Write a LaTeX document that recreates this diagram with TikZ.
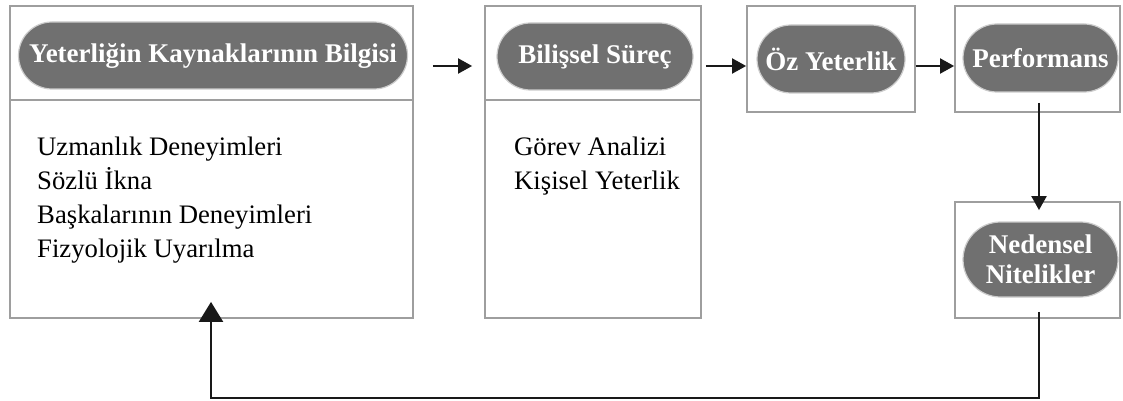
\documentclass[tikz,border=0pt]{standalone}
\usepackage{fontspec}
\setmainfont{Liberation Serif}
\usetikzlibrary{arrows.meta,calc,shapes.misc}
\begin{document}
\begin{tikzpicture}[x=1pt,y=-1pt,
  frame/.style={draw=black!38,line width=1.8pt,fill=white,inner sep=0pt},
  pill/.style={rounded rectangle,fill=black!56,draw=black!20,line width=1.2pt,
    text=white,font=\bfseries\fontsize{27}{30}\selectfont,inner sep=0pt,align=center},
  item/.style={anchor=base west,font=\fontsize{26.7}{30}\selectfont,inner sep=0pt},
  flow/.style={line width=2pt,draw=black!90,-{Triangle[length=14pt,width=15pt]}},
]
\useasboundingbox (0,0) rectangle (1123,401);
% outer frames
\node[frame,minimum width=403pt,minimum height=94pt]  (b1top) at (211.5,53) {};
\node[frame,minimum width=403pt,minimum height=218pt] (b1bot) at (211.5,209) {};
\node[frame,minimum width=216pt,minimum height=94pt]  (b2top) at (593,53) {};
\node[frame,minimum width=216pt,minimum height=218pt] (b2bot) at (593,209) {};
\node[frame,minimum width=168pt,minimum height=106pt] (b3) at (831,59) {};
\node[frame,minimum width=165pt,minimum height=106pt] (b4) at (1037.5,59) {};
\node[frame,minimum width=165pt,minimum height=116pt] (b5) at (1037.5,260) {};
% headings
\node[pill,minimum width=389pt,minimum height=67pt] (p1) at (213,55.5) {Yeterliğin Kaynaklarının Bilgisi};
\node[pill,minimum width=196pt,minimum height=67pt] (p2) at (595,56.5) {Bilişsel Süreç};
\node[pill,minimum width=148pt,minimum height=68pt] (p3) at (831,59) {Öz Yeterlik};
\node[pill,minimum width=155pt,minimum height=68pt] (p4) at (1040.5,58) {Performans};
\node[pill,minimum width=155pt,minimum height=75pt] (p5) at (1040.5,259.5) {Nedensel\\Nitelikler};
% lists
\node[item] (u1) at (37,155) {Uzmanlık Deneyimleri};
\node[item] (u2) at (37,189) {Sözlü İkna};
\node[item] (u3) at (37,223) {Başkalarının Deneyimleri};
\node[item] (u4) at (37,257) {Fizyolojik Uyarılma};
\node[item] (g1) at (514,155) {Görev Analizi};
\node[item] (g2) at (514,189) {Kişisel Yeterlik};
% connectors
\coordinate (rowy) at (0,66);
\draw[flow] ([xshift=19pt]b1top.east |- rowy) -- ([xshift=-12pt]b2top.west |- rowy);
\draw[flow] ([xshift=4pt]b2top.east |- rowy) -- (b3.west |- rowy);
\draw[flow] (b3.east |- rowy) -- (b4.west |- rowy);
\coordinate (dx) at (1039,0);
\draw[flow] ([yshift=10pt]b4.south -| dx) -- ([yshift=-9pt]b5.north -| dx);
\coordinate (fb) at (211,398);
\draw[line width=2.2pt,draw=black!90,-{Triangle[length=20pt,width=24pt]}]
  ([yshift=7pt]b5.south -| dx) -- (dx |- fb) -- (fb) -- ([yshift=17pt]b1bot.south -| fb);
\end{tikzpicture}
\end{document}
